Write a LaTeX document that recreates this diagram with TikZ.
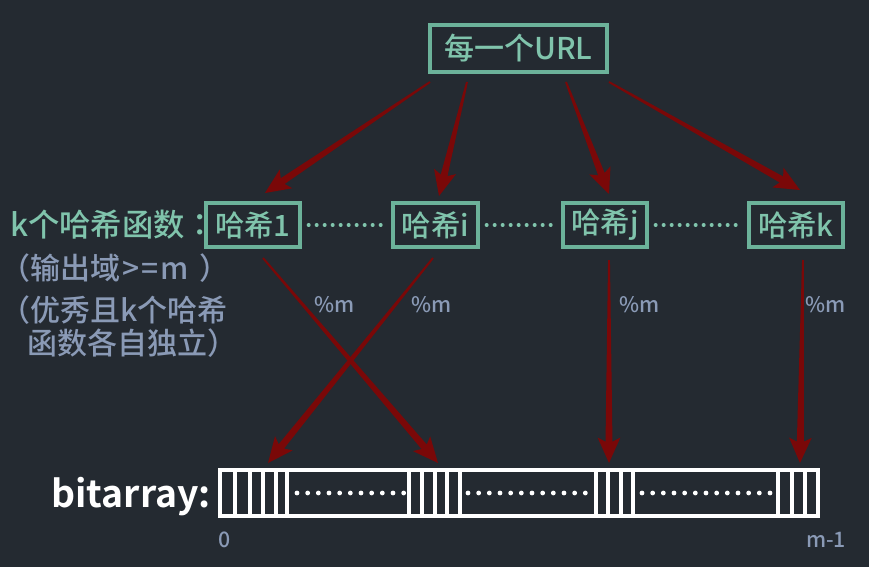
\documentclass[tikz,border=0pt]{standalone}
\usepackage{fontspec}
\setmainfont{Noto Sans CJK SC Medium}[BoldFont={Noto Sans CJK SC Bold}]
\newfontfamily\jpf{Noto Sans CJK JP Medium}
\usetikzlibrary{calc}
\definecolor{bgc}{RGB}{36,42,49}
\definecolor{tealb}{RGB}{108,178,154}
\definecolor{tealtxt}{RGB}{128,196,172}
\definecolor{graytxt}{RGB}{138,154,182}
\definecolor{arrowred}{RGB}{122,8,8}
\newcommand\taparrow[2]{%
  \coordinate (tA) at (#1);\coordinate (tB) at (#2);
  \coordinate (tC) at ($(tB)!19pt!(tA)$);
  \coordinate (tD) at ($(tB)!16pt!(tA)$);
  \fill[arrowred] ($(tA)!0.7pt!90:(tB)$) -- ($(tD)!2.6pt!-90:(tA)$) -- ($(tC)!8.5pt!-90:(tA)$) -- (tB)
     -- ($(tC)!8.5pt!90:(tA)$) -- ($(tD)!2.6pt!90:(tA)$) -- ($(tA)!0.7pt!-90:(tB)$) -- cycle;}
\begin{document}
\begin{tikzpicture}[x=0.75pt,y=-0.75pt,
  hashbox/.style={draw=tealb, line width=3pt, text=tealtxt, inner sep=0pt,
    minimum height=33pt, font=\fontsize{22}{24}\selectfont},
  tealdot/.style={draw=tealtxt, line width=3pt, line cap=round, dash pattern=on 0pt off 6pt},
  whitedot/.style={draw=white, line width=3.6pt, line cap=round, dash pattern=on 0pt off 8pt},
  graylab/.style={text=graytxt, inner sep=0pt, font=\fontsize{22.5}{25}\selectfont},
  modlab/.style={text=graytxt, inner sep=0pt, font=\fontsize{16}{18}\selectfont},
  bitline/.style={draw=white, line width=2.3pt}]
\fill[bgc] (0,0) rectangle (869,567);
\useasboundingbox (0,0) rectangle (869,567);

% top node
\node[hashbox, line width=2.7pt, minimum width=132.75pt, minimum height=35.25pt, font=\fontsize{22.5}{24}\selectfont] (url) at (518.5,48.5) {每一个URL};

% hash nodes
\node[hashbox, minimum width=70.5pt] (h1) at (253,225) {哈希1};
\node[hashbox, minimum width=63.75pt] (hi) at (435.5,225) {哈希i};
\node[hashbox, minimum width=63pt] (hj) at (605,225) {哈希j};
\node[hashbox, minimum width=70.5pt] (hk) at (796,225) {哈希k};

\draw[tealdot, shorten <=5pt, shorten >=4pt] (h1.east) -- (hi.west);
\draw[tealdot, shorten <=5pt, shorten >=4pt] (hi.east) -- (hj.west);
\draw[tealdot, shorten <=5pt, shorten >=4pt] (hj.east) -- (hk.west);

% labels on the left
\node[anchor=west, text=tealtxt, inner sep=0pt, font=\fontsize{23.5}{26}\selectfont] (klab) at (10,225) {k个哈希函数{\jpf ：}};
\node[graylab, anchor=west] (outd) at (0,268) {（输出域\kern1.5pt>\kern1.5pt=\kern1.5pt m\hspace{8pt}）};
\node[graylab, anchor=west] (good1) at (0,310) {（优秀且k个哈希};
\node[graylab, anchor=west] (good2) at (27,343) {函数各自独立）};

% bit array
\draw[white, line width=2.6pt] (220,470) rectangle (818,516);
\foreach \x in {235,250,263,276,287,409,422,435,447,460,596,608,621,633,778,792,805}
  \draw[bitline] (\x,470) -- (\x,516);
\draw[whitedot] (297,493) -- (404,493);
\draw[whitedot] (468,493) -- (588,493);
\draw[whitedot] (642,493) -- (770,493);
\node[anchor=base east, text=white, inner sep=0pt, font=\fontsize{28}{30}\selectfont\bfseries] (bitlab) at (211,507) {bitarray:};
\node[modlab] (zero) at (225,540) {0};
\node[modlab] (mone) at (826,540) {m-1};

% mod labels
\node[modlab] (m1) at (335,305) {\%m};
\node[modlab] (m2) at (432,305) {\%m};
\node[modlab] (m3) at (640,305) {\%m};
\node[modlab] (m4) at (826,305) {\%m};

% arrow endpoints
\coordinate (u1) at (430,82);
\coordinate (u2) at (467,82);
\coordinate (u3) at (566,82);
\coordinate (u4) at (609,82);
\coordinate (t1) at (265,193);
\coordinate (t2) at (439,196);
\coordinate (t3) at (609,194);
\coordinate (t4) at (800,190);
\coordinate (s1) at (263,258);
\coordinate (s2) at (433,258);
\coordinate (s3) at (609,260);
\coordinate (s4) at (803,260);
\coordinate (b1) at (438,463);
\coordinate (b2) at (268,463);
\coordinate (b3) at (609,463);
\coordinate (b4) at (800,463);

\taparrow{u1}{t1}
\taparrow{u2}{t2}
\taparrow{u3}{t3}
\taparrow{u4}{t4}
\taparrow{s1}{b1}
\taparrow{s2}{b2}
\taparrow{s3}{b3}
\taparrow{s4}{b4}
\end{tikzpicture}
\end{document}
